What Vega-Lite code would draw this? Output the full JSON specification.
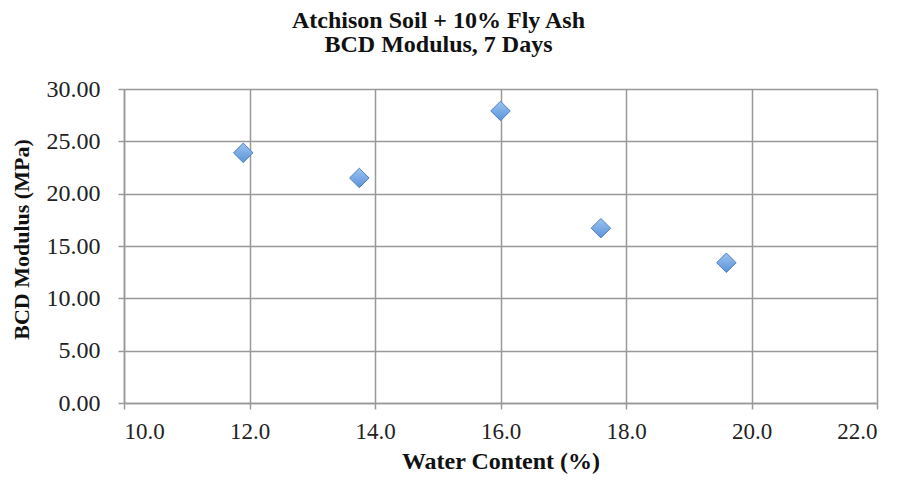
{
  "$schema": "https://vega.github.io/schema/vega-lite/v6.json",
  "autosize": "none",
  "width": 753,
  "height": 314,
  "padding": {"left": 124, "top": 89, "right": 30, "bottom": 81},
  "background": "white",
  "title": {
    "text": ["Atchison Soil + 10% Fly Ash", "BCD Modulus, 7 Days"],
    "font": "Liberation Serif",
    "fontSize": 24,
    "fontWeight": "bold",
    "color": "#111111",
    "anchor": "middle",
    "frame": "group",
    "dx": -62,
    "lineHeight": 24,
    "offset": 20
  },
  "data": {
    "values": [
      {"water": 11.9, "modulus": 23.9},
      {"water": 13.75, "modulus": 21.5},
      {"water": 16.0, "modulus": 27.9},
      {"water": 17.6, "modulus": 16.7},
      {"water": 19.6, "modulus": 13.4}
    ]
  },
  "mark": {
    "type": "point",
    "shape": "diamond",
    "size": 380,
    "filled": true,
    "fill": {
      "gradient": "linear",
      "x1": 0, "y1": 0, "x2": 0, "y2": 1,
      "stops": [
        {"offset": 0, "color": "#9cc3f0"},
        {"offset": 1, "color": "#5b93d9"}
      ]
    },
    "stroke": "#4f7fc0",
    "strokeWidth": 1,
    "opacity": 1
  },
  "encoding": {
    "x": {
      "field": "water",
      "type": "quantitative",
      "scale": {"domain": [10, 22], "nice": false, "zero": false},
      "axis": {
        "title": "Water Content (%)",
        "values": [10, 12, 14, 16, 18, 20, 22],
        "format": ".1f",
        "labelFont": "Liberation Serif",
        "labelFontSize": 23,
        "labelColor": "#222222",
        "labelPadding": 11,
        "titleFont": "Liberation Serif",
        "titleFontSize": 24,
        "titleFontWeight": "bold",
        "titleColor": "#111111",
        "titlePadding": 6,
        "tickSize": 6,
        "tickColor": "#999999",
        "tickWidth": 1.5,
        "domainColor": "#999999",
        "domainWidth": 1.5,
        "gridColor": "#999999",
        "gridWidth": 1.5,
        "grid": true
      }
    },
    "y": {
      "field": "modulus",
      "type": "quantitative",
      "scale": {"domain": [0, 30], "nice": false},
      "axis": {
        "title": "BCD Modulus (MPa)",
        "values": [0, 5, 10, 15, 20, 25, 30],
        "format": ".2f",
        "labelFont": "Liberation Serif",
        "labelFontSize": 24,
        "labelColor": "#222222",
        "labelPadding": 18,
        "titleFont": "Liberation Serif",
        "titleFontSize": 22,
        "titleFontWeight": "bold",
        "titleColor": "#111111",
        "titlePadding": 13,
        "titleY": 150,
        "tickSize": 6,
        "tickColor": "#999999",
        "tickWidth": 1.5,
        "domainColor": "#999999",
        "domainWidth": 1.5,
        "gridColor": "#999999",
        "gridWidth": 1.5,
        "grid": true
      }
    }
  },
  "config": {
    "view": {"stroke": null}
  }
}
